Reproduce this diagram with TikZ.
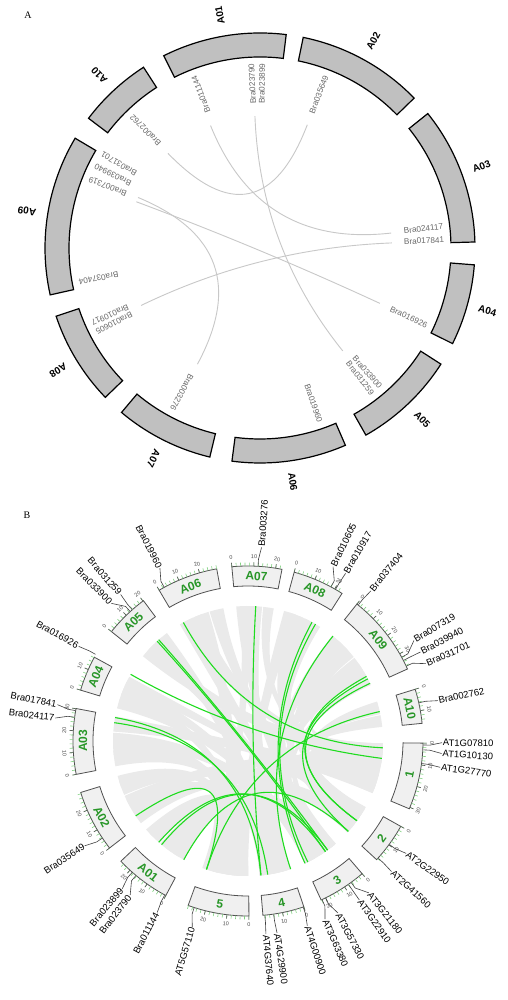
\documentclass[tikz,border=0pt]{standalone}
\usepackage{fontspec}
\setmainfont{Liberation Serif}
\setsansfont{Liberation Sans}
\usetikzlibrary{calc}
\definecolor{segA}{RGB}{192,192,192}
\definecolor{linkA}{RGB}{200,200,200}
\definecolor{geneA}{RGB}{105,105,105}
\definecolor{boxB}{RGB}{240,240,240}
\definecolor{edgeB}{RGB}{80,80,80}
\definecolor{labB}{RGB}{40,150,40}
\definecolor{tickB}{RGB}{130,210,130}
\definecolor{ribBc}{RGB}{234,234,234}
\definecolor{linkB}{RGB}{30,220,30}
\begin{document}
\begin{tikzpicture}[x=1pt,y=1pt,
  segAst/.style={draw=black,line width=1.2pt,fill=segA},
  chrA/.style={font=\sffamily\bfseries\fontsize{10}{10}\selectfont,inner sep=0pt},
  geneAst/.style={font=\sffamily\fontsize{8.2}{8.2}\selectfont,text=geneA,inner sep=0.5pt},
  linkAst/.style={draw=linkA,line width=0.9pt},
  panel/.style={font=\fontsize{10}{10}\selectfont,inner sep=0pt},
  boxBst/.style={draw=edgeB,line width=0.8pt,fill=boxB},
  boxlab/.style={font=\sffamily\bfseries\fontsize{12}{12}\selectfont,text=labB,inner sep=0pt},
  tickminor/.style={draw=tickB,line width=0.6pt},
  tickmajor/.style={draw=black!65,line width=0.6pt},
  ticklab/.style={font=\sffamily\fontsize{5.5}{5.5}\selectfont,text=black!70,inner sep=0pt},
  geneBst/.style={font=\sffamily\fontsize{9.5}{9.5}\selectfont,inner sep=0.8pt},
  leader/.style={draw=black!75,line width=0.6pt},
  ribB/.style={fill=ribBc},
  linkBst/.style={draw=linkB,line width=1.1pt},
]
\useasboundingbox (0,0) rectangle (507,1000);
\fill[white] (0,0) rectangle (507,1000);

\node[panel] (labA) at (28,985) {A};
\node[panel] (labB) at (27,485) {B};

%================ PANEL A =================
\begin{scope}[shift={(260,752)}]
\coordinate (oA) at (0,0);
\foreach \s/\e/\n/\m in {116.6/83.0/A01/99.8, 78.4/44.2/A02/61.3, 38.7/1.6/A03/20.2,
  -4.5/-26.4/A04/-15.5, -32.7/-60.5/A05/-46.6, -66.6/-97.5/A06/-82,
  -103.5/-130.1/A07/-116.8, -136/-161.5/A08/-148.8, 192.6/149.3/A09/171, 142.9/122.8/A10/132.9} {
  \draw[segAst] (\s:191pt) arc[start angle=\s,end angle=\e,radius=191pt]
     -- (\e:215pt) arc[start angle=\e,end angle=\s,radius=215pt] -- cycle;
  \node[chrA,rotate=\m] (cA\n) at (\m:236pt) {\n};
}
\foreach \n/\a in {Bra011144/111, Bra023790/92.7, Bra023899/89.3, Bra035649/69,
  Bra024117/6.7, Bra017841/2.5, Bra016926/-25, Bra033900/-49.2, Bra031259/-52.4,
  Bra019960/-71, Bra003276/-118.4, Bra010917/-155.9, Bra010605/-152.7,
  Bra037404/-169.4, Bra031701/149.2, Bra039940/153.6, Bra007319/158, Bra002762/134.2} {
  \node[geneAst,rotate=\a,anchor=east] (tA\n) at (\a:185pt) {\n};
}
\foreach \n/\a in {Bra002762/134.2, Bra035649/69, Bra011144/112, Bra024117/6.5,
  Bra023790/92.2, Bra033900/-51.2, Bra007319/159.5, Bra016926/-24.8,
  Bra039940/157.5, Bra003276/-118.3, Bra010917/-154.2, Bra017841/2.2} {
  \coordinate (eA\n) at (\a:132pt);
}
\foreach \a/\b in {Bra002762/Bra035649, Bra011144/Bra024117, Bra023790/Bra033900,
  Bra007319/Bra016926, Bra039940/Bra003276, Bra010917/Bra017841} {
  \draw[linkAst] (eA\a) .. controls ($(oA)!0.3333!(eA\a)$) and ($(oA)!0.3333!(eA\b)$) .. (eA\b);
}
\end{scope}

%================ PANEL B =================
\begin{scope}[shift={(248,259)}]
\coordinate (oB) at (0,0);
% grey synteny ribbons
\foreach \a/\b/\c/\d in {95/89.5/-49.5/-56, 89/84/-71.5/-78, 83.5/79/-8/-15,
  74.5/68.5/-90/-98, 68/63/-14/-21, 62.5/57.7/-55/-62,
  51.3/45/-77/-85, 44.5/38.5/-29.5/-36, 38/31.5/-97/-105, 31/27.8/-1/-7, 27.4/24.5/-60/-65.2,
  17/11.5/-35/-42.5, 11/6/-17/-22.7,
  241.8/236/-1/-8, 235.5/229.5/-72/-79, 229/223.6/-49.5/-57,
  217.5/211/-34/-42.5, 210.5/204/-8/-16, 203.5/197.3/-100/-109.8,
  190.8/184/-78/-85, 183.5/176.5/-56/-65, 176/169.5/-15/-22.7,
  163/157/-89.8/-97, 156.5/151.6/-29.3/-35,
  141.1/134/-1/-9, 133.5/126.9/-74/-82,
  120.3/114/-50/-58, 113.5/107/-96/-106, 106.5/100.5/-33/-40,
  93/88/-102/-108, 72/66/-40/-42.6, 48/42/-51/-55, 225/221/-83/-85,
  166/162/-60/-64, 200/195/-94/-99,
  186/178/-92/-100, 160/154/-62/-65, 138/130/-50/-54, 118/110/-3/-10,
  214/206/-80/-85, 239/232/-38/-42, 35/29/-72/-76, 65/60/-30/-33} {
  \fill[ribB] (\a:135pt) arc[start angle=\a,end angle=\b,radius=135pt]
    .. controls (\b:45pt) and (\c:45pt) .. (\c:135pt)
    arc[start angle=\c,end angle=\d,radius=135pt]
    .. controls (\d:45pt) and (\a:45pt) .. (\a:135pt) -- cycle;
}
% chromosome boxes, ticks
\foreach \s/\e/\n/\m/\mx/\mj in {95.3/78.8/A07/87.05/22/20, 74.7/57.5/A08/66.1/22/20,
  51.5/24.3/A09/37.9/36/30, 17.2/5.8/A10/11.5/14/10, -0.7/-22.8/1/-11.75/30/30,
  -29.2/-42.7/2/-35.95/18/10, -49.3/-65.3/3/-57.3/22/20, -71.4/-85.1/4/-78.25/18/10,
  -89.7/-110/5/-99.85/28/20, 242/223.4/A01/232.7/24/20, 217.7/197.1/A02/207.4/28/20,
  191/169.3/A03/179.9/30/30, 163.1/151.4/A04/157.25/16/10, 141.3/126.7/A05/134/20/20,
  120.5/100.3/A06/110.4/28/20} {
  \draw[boxBst] (\s:155pt) arc[start angle=\s,end angle=\e,radius=155pt]
     -- (\e:175pt) arc[start angle=\e,end angle=\s,radius=175pt] -- cycle;
  \pgfmathsetmacro\rot{sin(\m)>0 ? \m-90 : \m+90}
  \node[boxlab,rotate=\rot] (bB\n) at (\m:165pt) {\n};
  \foreach \u in {0,2,...,\mx} {
    \pgfmathsetmacro\t{\s-\u*0.72}
    \draw[tickminor] (\t:175pt) -- (\t:178.5pt);
  }
  \foreach \u in {0,10,...,\mj} {
    \pgfmathsetmacro\t{\s-\u*0.72}
    \pgfmathsetmacro\tr{sin(\t)>0 ? \t-90 : \t+90}
    \draw[tickmajor] (\t:175pt) -- (\t:179pt);
    \node[ticklab,rotate=\tr] (k\n-\u) at (\t:184pt) {\u};
  }
}
% gene labels, right half
\foreach \n/\p/\q in {Bra003276/86.7/86, Bra010605/61.7/64, Bra010917/60/59.8,
  Bra037404/51/50.7, Bra007319/28.6/31.2, Bra039940/27.4/27.3, Bra031701/25.3/23.5,
  Bra002762/12.6/12, AT1G07810/-1.3/-0.5, AT1G10130/-2.9/-3.7, AT1G27770/-7.4/-7.8,
  AT2G22950/-36.2/-35.4, AT2G41560/-42/-42.3, AT3G21180/-53.9/-51.5,
  AT3G22910/-55/-55, AT3G57330/-63.7/-62.4, AT3G63380/-65/-66.6,
  AT4G00900/-71.6/-72.2, AT4G29900/-81.6/-81.4, AT4G37640/-84.5/-84.7} {
  \node[geneBst,rotate=\q,anchor=west] (tB\n) at (\q:194pt) {\n};
  \draw[leader] (\p:175.5pt) -- (\p:182pt) -- (tB\n.west);
  \coordinate (eB\n) at (\p:135pt);
}
% gene labels, left half
\foreach \n/\p/\q in {AT5G57110/-107.9/-106.7, Bra011144/-118.4/-117.9,
  Bra023790/-129.8/-127.4, Bra023899/-131.4/-130.4, Bra035649/-146.3/-147.3,
  Bra024117/172.2/173.2, Bra017841/170/169.2, Bra016926/150.4/150.8,
  Bra033900/132.3/134.8, Bra031259/131.4/131.0, Bra019960/118.6/117} {
  \pgfmathsetmacro\qr{\q+180}
  \node[geneBst,rotate=\qr,anchor=east] (tB\n) at (\q:194pt) {\n};
  \draw[leader] (\p:175.5pt) -- (\p:182pt) -- (tB\n.east);
  \coordinate (eB\n) at (\p:135pt);
}
% green ortholog links
\foreach \a/\b in {Bra003276/AT4G37640, Bra019960/AT1G10130, Bra031259/AT3G21180,
  Bra033900/AT3G22910, Bra016926/AT1G27770, Bra017841/AT4G37640, Bra024117/AT4G29900,
  Bra035649/AT5G57110, Bra023899/AT3G22910, Bra023790/AT3G21180, Bra011144/AT2G41560,
  Bra010605/AT3G63380, Bra010917/AT3G57330, Bra037404/AT4G00900, Bra007319/AT2G22950,
  Bra039940/AT2G41560, Bra031701/AT2G22950, Bra002762/AT5G57110} {
  \draw[linkBst] (eB\a) .. controls ($(oB)!0.3333!(eB\a)$) and ($(oB)!0.3333!(eB\b)$) .. (eB\b);
}
\end{scope}
\end{tikzpicture}
\end{document}
